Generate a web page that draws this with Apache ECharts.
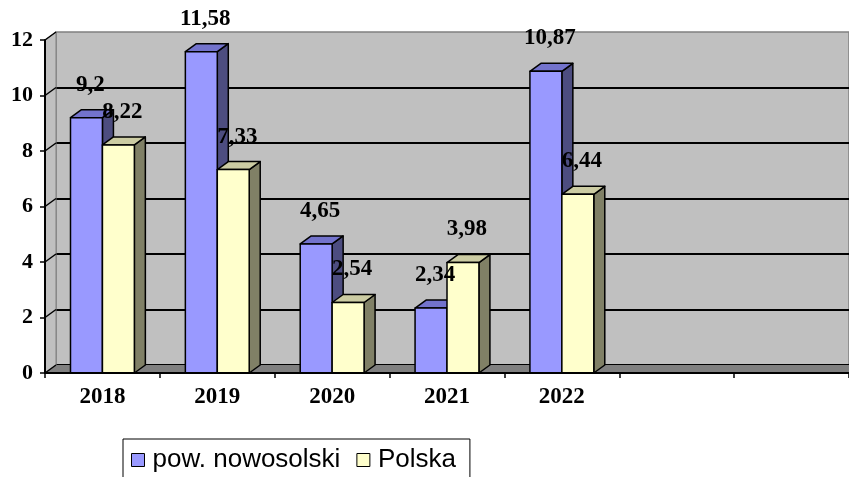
<!DOCTYPE html>
<html>
<head>
<meta charset="utf-8">
<script src="https://cdn.jsdelivr.net/npm/echarts@6/dist/echarts.min.js"></script>
<style>
  html, body { margin: 0; padding: 0; background: #fff; }
  #chart { width: 849px; height: 477px; }
</style>
</head>
<body>
<div id="chart"></div>
<script>
// data
const years = ['2018', '2019', '2020', '2021', '2022', '', ''];
const powNowosolski = [9.2, 11.58, 4.65, 2.34, 10.87, null, null];
const polska = [8.22, 7.33, 2.54, 3.98, 6.44, null, null];
const yTicks = [0, 2, 4, 6, 8, 10, 12];

const chart = echarts.init(document.getElementById('chart'));

// fake 3D depth
const DX = 11;
const DY = 8;
const BAR_FRAC = 0.278;
const SERIF = '"Liberation Serif", "Times New Roman", serif';

const fmt = v => String(v).replace('.', ',');

// x range of the front face; side 0 = left bar of the pair, 1 = right bar
const barBox = (side, api) => {
  const idx = api.value(0);
  const val = api.value(1);
  if (val == null || isNaN(val)) return null;
  const top = api.coord([idx, val]);
  const base = api.coord([idx, 0]);
  const w = api.size([1, 0])[0] * BAR_FRAC;
  const x0 = side === 0 ? top[0] - w : top[0];
  return { val, x0, x1: x0 + w, yT: top[1], yB: base[1] };
};

const barRender = (side, colors) => (params, api) => {
  const b = barBox(side, api);
  if (!b) return;
  const { x0, x1, yT, yB } = b;
  const stroke = { stroke: '#000', lineWidth: 1.5, lineJoin: 'round' };
  return {
    type: 'group',
    children: [
      {
        type: 'polygon',
        shape: { points: [[x1, yT], [x1 + DX, yT - DY], [x1 + DX, yB - DY], [x1, yB]] },
        style: Object.assign({ fill: colors.side }, stroke)
      },
      {
        type: 'polygon',
        shape: { points: [[x0, yT], [x0 + DX, yT - DY], [x1 + DX, yT - DY], [x1, yT]] },
        style: Object.assign({ fill: colors.top }, stroke)
      },
      {
        type: 'rect',
        shape: { x: x0, y: yT, width: x1 - x0, height: yB - yT },
        style: Object.assign({ fill: colors.front }, stroke)
      }
    ]
  };
};

const labelRender = side => (params, api) => {
  const b = barBox(side, api);
  if (!b) return;
  return {
    type: 'text',
    style: {
      text: fmt(b.val),
      x: (b.x0 + b.x1) / 2 + 4,
      y: b.yT - DY - 25,
      align: 'center',
      verticalAlign: 'middle',
      font: 'bold 23px ' + SERIF,
      fill: '#000'
    }
  };
};

// left wall + floor of the 3D box
const wallRender = (params, api) => {
  const cs = params.coordSys;
  const L = cs.x;
  const R = cs.x + cs.width;
  const y0 = api.coord([0, 0])[1];
  const yMax = api.coord([0, yTicks[yTicks.length - 1]])[1];
  const children = [
    {
      type: 'polygon',
      shape: { points: [[L, y0], [L + DX, y0 - DY], [L + DX, yMax - DY], [L, yMax]] },
      style: { fill: '#c0c0c0', stroke: '#808080', lineWidth: 1 }
    },
    {
      type: 'polygon',
      shape: { points: [[L, y0], [L + DX, y0 - DY], [R, y0 - DY], [R, y0]] },
      style: { fill: '#808080' }
    }
  ];
  yTicks.forEach(v => {
    const y = api.coord([0, v])[1];
    children.push({
      type: 'line',
      shape: { x1: L, y1: y, x2: L + DX, y2: y - DY },
      style: { stroke: '#000', lineWidth: 1.5 }
    });
  });
  return { type: 'group', children };
};

const seriesData = vals => years.map((y, i) => [i, vals[i]]);

const option = {
  animation: false,
  grid: [
    { left: 45, right: 0, top: 40, bottom: 104 },
    {
      left: 56, right: 0, top: 32, bottom: 112,
      show: true,
      backgroundColor: '#c0c0c0',
      borderColor: '#808080',
      borderWidth: 1.5
    }
  ],
  xAxis: [
    {
      type: 'category',
      gridIndex: 0,
      data: years,
      axisLine: { lineStyle: { color: '#000', width: 2 } },
      axisTick: { show: true, interval: 0, length: 5, lineStyle: { color: '#000', width: 1.5 } },
      axisLabel: {
        interval: 0,
        margin: 13,
        color: '#000',
        fontFamily: SERIF,
        fontWeight: 'bold',
        fontSize: 23
      },
      z: 10
    },
    { type: 'category', gridIndex: 1, data: years, show: false }
  ],
  yAxis: [
    {
      type: 'value',
      gridIndex: 0,
      min: 0,
      max: 12,
      interval: 2,
      axisLine: { show: true, lineStyle: { color: '#000', width: 2 } },
      axisTick: { show: true, length: 5, lineStyle: { color: '#000', width: 1.5 } },
      splitLine: { show: false },
      axisLabel: {
        margin: 12,
        color: '#000',
        fontFamily: SERIF,
        fontWeight: 'bold',
        fontSize: 22
      },
      z: 10
    },
    {
      type: 'value',
      gridIndex: 1,
      min: 0,
      max: 12,
      interval: 2,
      axisLine: { show: false },
      axisTick: { show: false },
      axisLabel: { show: false },
      splitLine: { show: true, showMaxLine: false, lineStyle: { color: '#000', width: 2 } }
    }
  ],
  legend: {
    left: 123,
    top: 439,
    padding: [8, 14, 40, 8],
    borderColor: '#000',
    borderWidth: 1,
    itemWidth: 13,
    itemHeight: 13,
    itemGap: 16,
    icon: 'rect',
    itemStyle: { borderColor: '#000', borderWidth: 1 },
    textStyle: {
      color: '#000',
      fontFamily: '"Liberation Sans", Arial, sans-serif',
      fontSize: 26,
      padding: [0, 0, 0, 3]
    },
    data: ['pow. nowosolski', 'Polska']
  },
  series: [
    {
      type: 'custom',
      silent: true,
      renderItem: wallRender,
      data: [[0, 0]],
      z: 1
    },
    {
      name: 'pow. nowosolski',
      type: 'custom',
      itemStyle: { color: '#9999ff' },
      renderItem: barRender(0, { front: '#9999ff', top: '#7373cc', side: '#4d4d80' }),
      encode: { x: 0, y: 1 },
      data: seriesData(powNowosolski),
      z: 3
    },
    {
      name: 'Polska',
      type: 'custom',
      itemStyle: { color: '#ffffcc' },
      renderItem: barRender(1, { front: '#ffffcc', top: '#cccca3', side: '#808066' }),
      encode: { x: 0, y: 1 },
      data: seriesData(polska),
      z: 4
    },
    {
      type: 'custom',
      silent: true,
      renderItem: labelRender(0),
      encode: { x: 0, y: 1 },
      data: seriesData(powNowosolski),
      z: 6
    },
    {
      type: 'custom',
      silent: true,
      renderItem: labelRender(1),
      encode: { x: 0, y: 1 },
      data: seriesData(polska),
      z: 6
    }
  ]
};

chart.setOption(option);
</script>
</body>
</html>
